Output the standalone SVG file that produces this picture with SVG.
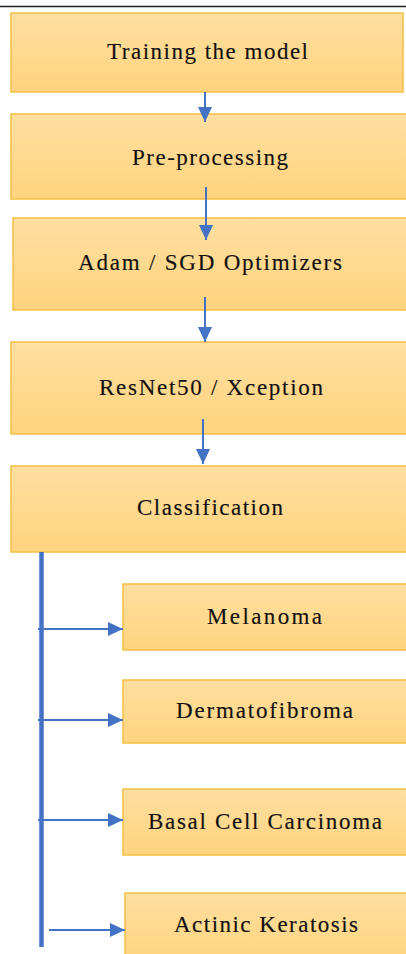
<svg xmlns="http://www.w3.org/2000/svg" width="406" height="954" viewBox="0 0 406 954">
<style>
.box{fill:url(#g);stroke:#F4BE45;stroke-width:1.5}
.lbl{font-family:'Liberation Serif',serif;font-size:23px;fill:#111;stroke:#111;stroke-width:0.15}
.c{stroke:#4472C4;stroke-width:2;fill:none}
.bus{stroke:#4472C4;stroke-width:4.5;fill:none}
.top{stroke:#222;stroke-width:1.5}
</style>
<defs>
<linearGradient id="g" x1="0" y1="0" x2="0" y2="1">
<stop offset="0" stop-color="#FFDFA0"/>
<stop offset="1" stop-color="#FFD37E"/>
</linearGradient>
<marker id="ah" viewBox="0 0 15 14" refX="15" refY="7" markerWidth="15" markerHeight="14" markerUnits="userSpaceOnUse" orient="auto">
<path d="M0,0 L15,7 L0,14 Z" fill="#4472C4"/>
</marker>
</defs>
<rect width="406" height="954" fill="#fff"/>
<line class="top" x1="0" y1="6.5" x2="406" y2="6.5"/>
<g id="n1"><rect class="box" x="11" y="13" width="392" height="79"/><text class="lbl" x="107" y="59" textLength="201" lengthAdjust="spacing">Training the model</text></g>
<g id="n2"><rect class="box" x="11" y="114" width="400" height="85"/><text class="lbl" x="132" y="165" textLength="156" lengthAdjust="spacing">Pre-processing</text></g>
<g id="n3"><rect class="box" x="13" y="218" width="400" height="92"/><text class="lbl" x="78" y="270" textLength="264" lengthAdjust="spacing">Adam / SGD Optimizers</text></g>
<g id="n4"><rect class="box" x="11" y="342" width="400" height="92"/><text class="lbl" x="99" y="395" textLength="224" lengthAdjust="spacing">ResNet50 / Xception</text></g>
<g id="n5"><rect class="box" x="11" y="466" width="400" height="86"/><text class="lbl" x="137" y="515" textLength="146" lengthAdjust="spacing">Classification</text></g>
<g id="n6"><rect class="box" x="123" y="584" width="290" height="66"/><text class="lbl" x="207" y="624" textLength="115" lengthAdjust="spacing">Melanoma</text></g>
<g id="n7"><rect class="box" x="123" y="680" width="290" height="63"/><text class="lbl" x="176" y="718" textLength="177" lengthAdjust="spacing">Dermatofibroma</text></g>
<g id="n8"><rect class="box" x="123" y="789" width="290" height="66"/><text class="lbl" x="148" y="829" textLength="234" lengthAdjust="spacing">Basal Cell Carcinoma</text></g>
<g id="n9"><rect class="box" x="125" y="893" width="290" height="70"/><text class="lbl" x="174" y="932" textLength="184" lengthAdjust="spacing">Actinic Keratosis</text></g>
<g id="connectors">
<line class="c" x1="205" y1="92" x2="205" y2="122" marker-end="url(#ah)"/>
<line class="c" x1="206" y1="187" x2="206" y2="240" marker-end="url(#ah)"/>
<line class="c" x1="205" y1="297" x2="205" y2="342" marker-end="url(#ah)"/>
<line class="c" x1="203" y1="419" x2="203" y2="464" marker-end="url(#ah)"/>
<line class="bus" x1="41.5" y1="552" x2="41.5" y2="947"/>
<line class="c" x1="38" y1="629" x2="123" y2="629" marker-end="url(#ah)"/>
<line class="c" x1="38" y1="720" x2="123" y2="720" marker-end="url(#ah)"/>
<line class="c" x1="38" y1="820" x2="123" y2="820" marker-end="url(#ah)"/>
<line class="c" x1="49" y1="930" x2="125" y2="930" marker-end="url(#ah)"/>
</g>
</svg>
